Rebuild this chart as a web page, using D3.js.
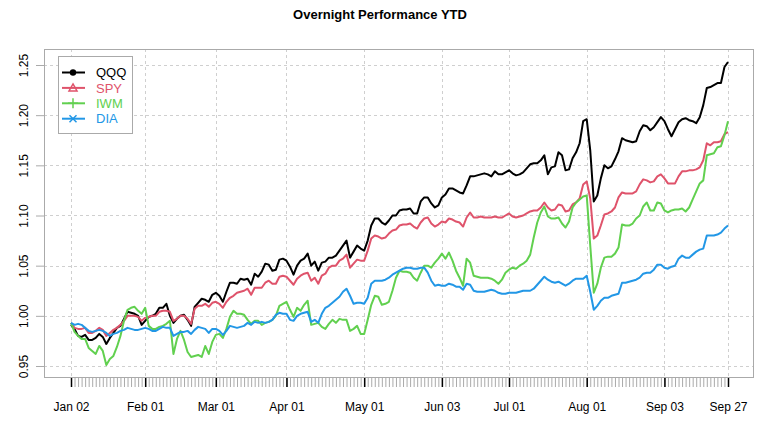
<!DOCTYPE html>
<html>
<head>
<meta charset="utf-8">
<script src="https://cdn.jsdelivr.net/npm/d3@7"></script>
<style>
  body { margin: 0; background: #fff; }
  svg { display: block; font-family: "Liberation Sans", Arial, sans-serif; }
</style>
</head>
<body>
<svg id="chart" width="761" height="421"></svg>
<script>
// trading calendar 2024 (weekdays minus exchange holidays)
var startDate = "2024-01-02", endDate = "2024-09-27";
var holidays = ["2024-01-15", "2024-02-19", "2024-03-29", "2024-05-27", "2024-06-19", "2024-07-04", "2024-09-02"];

var seriesNames = ["QQQ", "SPY", "IWM", "DIA"];
var seriesColors = ["#000000", "#DF536B", "#61D04F", "#2297E6"];
var yTicks = [0.95, 1.00, 1.05, 1.10, 1.15, 1.20, 1.25];

var qqq = [
  0.991,0.987,0.980,0.979,0.981,0.976,0.976,0.978,0.982,0.979,
  0.972,0.978,0.983,0.988,0.990,0.997,1.004,1.003,1.002,1.000,
  0.991,0.995,0.999,1.000,1.002,1.008,1.008,1.012,1.000,0.993,
  0.997,1.000,1.001,0.996,0.990,1.009,1.013,1.017,1.016,1.014,
  1.021,1.023,1.020,1.014,1.024,1.033,1.033,1.032,1.037,1.036,
  1.037,1.031,1.042,1.039,1.044,1.052,1.051,1.045,1.046,1.056,
  1.057,1.055,1.049,1.041,1.050,1.055,1.057,1.062,1.050,1.054,
  1.045,1.053,1.054,1.058,1.058,1.060,1.065,1.070,1.075,1.058,
  1.064,1.070,1.067,1.065,1.075,1.090,1.097,1.097,1.093,1.091,
  1.095,1.100,1.100,1.105,1.106,1.106,1.107,1.102,1.102,1.114,
  1.118,1.118,1.112,1.108,1.110,1.118,1.121,1.127,1.127,1.125,
  1.123,1.122,1.130,1.139,1.139,1.140,1.141,1.142,1.141,1.139,
  1.144,1.141,1.141,1.143,1.145,1.142,1.140,1.141,1.143,1.147,
  1.151,1.152,1.152,1.155,1.160,1.141,1.148,1.149,1.163,1.160,
  1.145,1.146,1.157,1.163,1.172,1.194,1.196,1.165,1.114,1.120,
  1.137,1.150,1.147,1.149,1.156,1.164,1.177,1.175,1.174,1.173,
  1.174,1.184,1.190,1.189,1.185,1.188,1.193,1.198,1.194,1.186,
  1.179,1.186,1.193,1.196,1.197,1.195,1.194,1.192,1.198,1.210,
  1.227,1.228,1.230,1.232,1.232,1.248,1.253
];
var spy = [
  0.993,0.988,0.987,0.987,0.988,0.983,0.983,0.985,0.988,0.986,
  0.980,0.983,0.986,0.988,0.991,0.995,1.000,1.000,1.000,0.999,
  0.995,0.998,0.999,1.000,1.000,1.004,1.005,1.005,1.004,0.995,
  0.997,1.000,1.000,0.997,0.992,1.007,1.010,1.010,1.012,1.009,
  1.013,1.014,1.012,1.008,1.014,1.018,1.020,1.023,1.024,1.025,
  1.027,1.021,1.028,1.028,1.028,1.033,1.035,1.032,1.032,1.039,
  1.040,1.039,1.035,1.031,1.037,1.040,1.042,1.043,1.035,1.038,
  1.032,1.040,1.042,1.048,1.050,1.050,1.055,1.057,1.061,1.048,
  1.052,1.056,1.055,1.055,1.065,1.077,1.080,1.079,1.077,1.078,
  1.082,1.085,1.086,1.090,1.091,1.091,1.092,1.089,1.087,1.093,
  1.097,1.098,1.092,1.089,1.091,1.094,1.093,1.097,1.096,1.094,
  1.093,1.089,1.098,1.103,1.098,1.098,1.099,1.098,1.098,1.098,
  1.099,1.098,1.098,1.100,1.102,1.099,1.098,1.099,1.100,1.102,
  1.104,1.105,1.105,1.108,1.113,1.108,1.105,1.106,1.111,1.110,
  1.104,1.105,1.111,1.113,1.117,1.131,1.134,1.117,1.077,1.080,
  1.090,1.101,1.102,1.104,1.108,1.118,1.123,1.122,1.122,1.122,
  1.124,1.131,1.136,1.135,1.133,1.134,1.139,1.141,1.137,1.132,
  1.132,1.132,1.139,1.144,1.144,1.145,1.145,1.146,1.148,1.155,
  1.172,1.170,1.173,1.173,1.174,1.181,1.183
];
var iwm = [
  0.993,0.984,0.980,0.977,0.977,0.968,0.965,0.962,0.970,0.965,
  0.951,0.957,0.960,0.969,0.980,0.995,1.006,1.008,1.009,1.005,
  1.002,1.008,0.990,0.987,0.987,0.989,0.990,0.992,0.995,0.962,
  0.977,0.985,0.976,0.964,0.959,0.960,0.961,0.959,0.970,0.962,
  0.974,0.981,0.982,0.978,0.987,0.999,1.005,1.002,1.002,1.001,
  0.996,0.992,0.995,0.995,0.991,0.993,0.994,0.996,1.000,1.010,
  1.012,1.014,1.006,0.999,1.008,1.005,1.011,1.015,0.991,0.992,
  0.993,0.989,0.987,0.992,0.996,0.993,0.997,0.996,0.996,0.985,
  0.987,0.990,0.982,0.982,0.996,1.011,1.020,1.019,1.011,1.012,
  1.014,1.025,1.038,1.045,1.044,1.044,1.043,1.038,1.035,1.043,
  1.050,1.050,1.048,1.053,1.057,1.062,1.057,1.063,1.055,1.045,
  1.038,1.030,1.057,1.053,1.040,1.039,1.038,1.038,1.038,1.037,
  1.035,1.032,1.036,1.043,1.046,1.048,1.047,1.050,1.052,1.055,
  1.061,1.078,1.093,1.103,1.109,1.099,1.097,1.097,1.098,1.092,
  1.088,1.094,1.108,1.113,1.116,1.119,1.120,1.070,1.023,1.032,
  1.048,1.058,1.059,1.059,1.062,1.068,1.091,1.090,1.090,1.092,
  1.097,1.100,1.109,1.113,1.105,1.105,1.113,1.112,1.105,1.103,
  1.105,1.106,1.106,1.107,1.104,1.108,1.116,1.124,1.132,1.135,
  1.160,1.161,1.162,1.168,1.169,1.180,1.194
];
var dia = [
  0.993,0.991,0.992,0.991,0.988,0.985,0.984,0.985,0.986,0.985,
  0.983,0.980,0.982,0.983,0.985,0.986,0.988,0.987,0.986,0.986,
  0.987,0.988,0.987,0.985,0.985,0.987,0.989,0.988,0.988,0.980,
  0.982,0.984,0.984,0.985,0.982,0.986,0.989,0.988,0.987,0.983,
  0.987,0.987,0.985,0.981,0.985,0.990,0.989,0.988,0.989,0.990,
  0.993,0.991,0.994,0.993,0.994,0.993,0.994,0.996,1.001,1.003,
  1.002,1.002,0.996,0.995,1.000,1.002,1.003,1.004,0.994,0.996,
  0.993,1.002,1.008,1.010,1.013,1.016,1.019,1.024,1.027,1.020,
  1.012,1.013,1.013,1.012,1.018,1.032,1.035,1.035,1.035,1.036,
  1.038,1.041,1.043,1.045,1.047,1.048,1.048,1.047,1.047,1.048,
  1.048,1.043,1.035,1.030,1.031,1.030,1.030,1.032,1.031,1.029,
  1.029,1.026,1.032,1.031,1.025,1.024,1.024,1.024,1.025,1.026,
  1.025,1.023,1.022,1.022,1.023,1.023,1.023,1.024,1.025,1.025,
  1.025,1.027,1.031,1.035,1.039,1.036,1.034,1.033,1.034,1.032,
  1.030,1.032,1.035,1.037,1.037,1.037,1.040,1.024,1.006,1.010,
  1.015,1.018,1.018,1.020,1.021,1.022,1.033,1.033,1.034,1.035,
  1.036,1.038,1.042,1.043,1.043,1.046,1.051,1.051,1.048,1.047,
  1.049,1.050,1.057,1.060,1.058,1.058,1.061,1.064,1.066,1.067,
  1.080,1.080,1.080,1.081,1.083,1.087,1.090
];
var allSeries = [qqq, spy, iwm, dia];

// build trading days
var fmt = d3.timeFormat("%Y-%m-%d");
var parse = d3.timeParse("%Y-%m-%d");
var dates = d3.timeDay.range(parse(startDate), d3.timeDay.offset(parse(endDate), 1))
  .filter(function(d) { return d.getDay() !== 0 && d.getDay() !== 6 && holidays.indexOf(fmt(d)) < 0; });

// major ticks: first trading day of each month + last day
var majors = [];
dates.forEach(function(d, i) {
  if (i === 0 || d.getMonth() !== dates[i - 1].getMonth()) majors.push(i);
});
majors.push(dates.length - 1);

var svg = d3.select("#chart");
var box = { left: 44, right: 753, top: 49, bottom: 377 };

var x = d3.scaleLinear().domain([0, dates.length - 1]).range([71, 728]);
var y = d3.scaleLinear().domain([0.95, 1.25]).range([366, 65]);

// title
svg.append("text")
  .attr("x", 380).attr("y", 19)
  .attr("text-anchor", "middle")
  .style("font-weight", "bold").style("font-size", "13px")
  .text("Overnight Performance YTD");

// grid
var grid = svg.append("g").attr("stroke", "#cfcfcf").attr("stroke-dasharray", "3,3").attr("stroke-width", 1);
grid.selectAll("line.h").data(yTicks).enter().append("line")
  .attr("x1", box.left).attr("x2", box.right)
  .attr("y1", function(d) { return Math.round(y(d)) + 0.5; })
  .attr("y2", function(d) { return Math.round(y(d)) + 0.5; });
grid.selectAll("line.v").data(majors).enter().append("line")
  .attr("y1", box.top).attr("y2", box.bottom)
  .attr("x1", function(i) { return Math.round(x(i)) + 0.5; })
  .attr("x2", function(i) { return Math.round(x(i)) + 0.5; });

// y axis (R style, rotated labels)
var yAxis = svg.append("g").attr("transform", "translate(" + box.left + ",0)")
  .call(d3.axisLeft(y).tickValues(yTicks).tickSize(8).tickFormat(d3.format(".2f")));
yAxis.select(".domain").remove();
yAxis.selectAll(".tick line").attr("stroke", "#aaaaaa");
yAxis.selectAll(".tick text")
  .attr("x", null).attr("dy", null)
  .attr("transform", "translate(-20,0) rotate(-90)")
  .attr("text-anchor", "middle")
  .attr("dy", "0.35em")
  .style("font-size", "12px").attr("fill", "#000")
  .style("font-family", "'Liberation Sans', Arial, sans-serif");

// x axis: minor ticks every observation, major ticks with labels
var xg = svg.append("g").attr("transform", "translate(0," + (box.bottom + 1) + ")");
xg.call(d3.axisBottom(x).tickValues(d3.range(dates.length)).tickSize(9).tickFormat(""));
xg.select(".domain").remove();
xg.selectAll(".tick line").attr("stroke", "#aaaaaa");
var xMajor = svg.append("g").attr("transform", "translate(0," + (box.bottom + 1) + ")");
xMajor.call(d3.axisBottom(x).tickValues(majors).tickSize(9).tickPadding(15)
  .tickFormat(function(i) { return d3.timeFormat("%b %d")(dates[i]); }));
xMajor.select(".domain").remove();
xMajor.selectAll(".tick line").attr("stroke", "#000").attr("stroke-width", 1.5);
xMajor.selectAll(".tick text").style("font-size", "12px").attr("fill", "#000")
  .style("font-family", "'Liberation Sans', Arial, sans-serif");

// series lines
var line = d3.line().x(function(d, i) { return x(i); }).y(function(d) { return y(d); });
svg.append("g").selectAll("path").data(allSeries).enter().append("path")
  .attr("d", line)
  .attr("fill", "none")
  .attr("stroke", function(d, k) { return seriesColors[k]; })
  .attr("stroke-width", 2)
  .attr("stroke-linejoin", "round");

// plot box
svg.append("rect")
  .attr("x", box.left + 0.5).attr("y", box.top + 0.5)
  .attr("width", box.right - box.left).attr("height", box.bottom - box.top)
  .attr("fill", "none").attr("stroke", "#aaaaaa");

// legend
var lg = svg.append("g");
lg.append("rect").attr("x", 58.5).attr("y", 56.5).attr("width", 74).attr("height", 77)
  .attr("fill", "#fff").attr("stroke", "#aaaaaa");
var rows = lg.selectAll("g.row").data(seriesNames).enter().append("g")
  .attr("transform", function(d, k) { return "translate(0," + (72.5 + k * 15.4) + ")"; });
rows.append("line").attr("x1", 62).attr("x2", 85).attr("y1", 0).attr("y2", 0)
  .attr("stroke", function(d, k) { return seriesColors[k]; }).attr("stroke-width", 2);
rows.each(function(d, k) {
  var g = d3.select(this), c = seriesColors[k];
  if (k === 0) g.append("circle").attr("cx", 73).attr("cy", 0).attr("r", 3.2).attr("fill", c);
  if (k === 1) g.append("path").attr("d", "M73,-4L77,3L69,3Z").attr("fill", "none").attr("stroke", c).attr("stroke-width", 1.5);
  if (k === 2) g.append("path").attr("d", "M73,-5V5M68,0H78").attr("stroke", c).attr("stroke-width", 1.5);
  if (k === 3) g.append("path").attr("d", "M69.5,-3.5L76.5,3.5M69.5,3.5L76.5,-3.5").attr("stroke", c).attr("stroke-width", 1.5);
});
rows.append("text").attr("x", 96).attr("y", 0).attr("dy", "0.36em")
  .style("font-size", "13px")
  .attr("fill", function(d, k) { return seriesColors[k]; })
  .text(function(d) { return d; });
</script>
</body>
</html>
